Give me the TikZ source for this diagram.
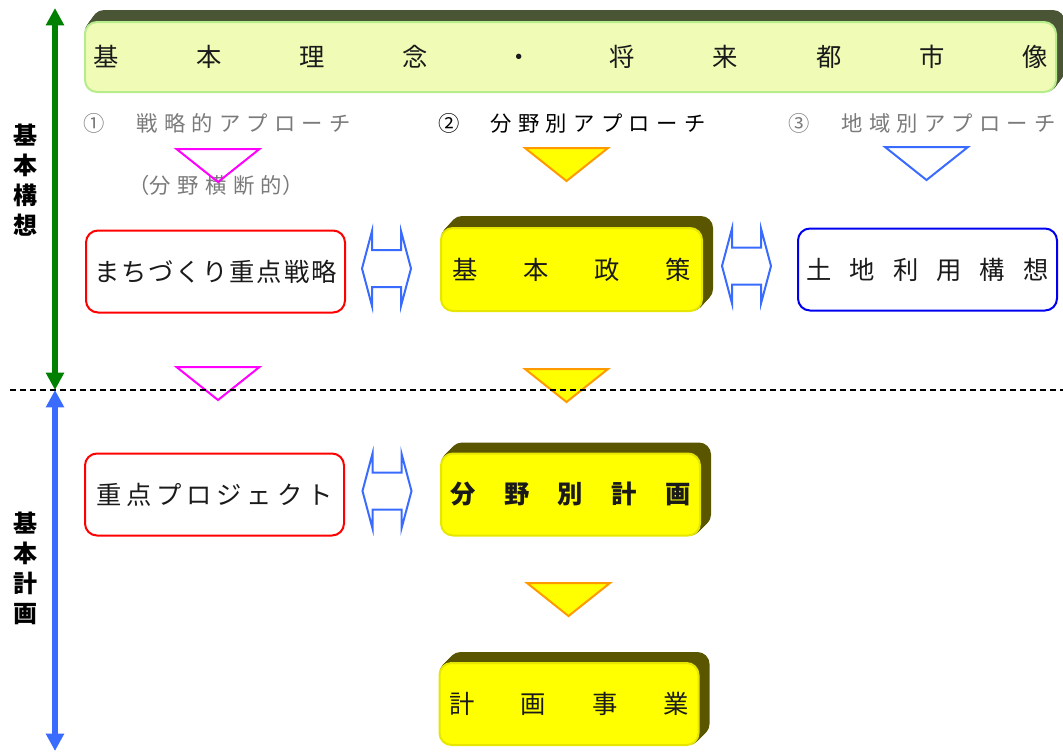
\documentclass[tikz,border=0pt]{standalone}
\usepackage{fontspec}
\setmainfont{Noto Sans CJK JP}
\usetikzlibrary{arrows.meta,backgrounds}
\newdimen\pxu \pxu=0.75pt
\newcommand\spreadtext[2]{\makebox[#1\pxu][s]{\spaceskip=0pt plus 1fil\relax #2}}
\definecolor{visionfill}{HTML}{F0FCB6}
\definecolor{visionline}{HTML}{B6EC8C}
\definecolor{visionshade}{HTML}{4A5536}
\definecolor{polyellow}{HTML}{FFFF00}
\definecolor{polline}{HTML}{E6E600}
\definecolor{polshade}{HTML}{5A5600}
\definecolor{stratred}{HTML}{FF0000}
\definecolor{areablue}{HTML}{0000EE}
\definecolor{linkblue}{HTML}{3A6BFF}
\definecolor{tipmagenta}{HTML}{FF00FF}
\definecolor{tiporange}{HTML}{FF9900}
\definecolor{conceptgreen}{HTML}{008000}
\definecolor{labelgray}{HTML}{7A7A7A}
\definecolor{inkgray}{HTML}{1A1A1A}
\tikzset{
  basebox/.style={rectangle, rounded corners=9pt, line width=1.5pt, inner sep=0pt,
    text=inkgray, font=\fontsize{19}{22}\selectfont,
    minimum width=194.25pt, minimum height=61.5pt},
  stratbox/.style={basebox, draw=stratred},
  areabox/.style={basebox, draw=areablue},
  yelbox/.style={basebox, draw=polline, fill=polyellow},
  visionbox/.style={basebox, draw=visionline, fill=visionfill,
    minimum width=728.25pt, minimum height=52.5pt},
  rowlabel/.style={inner sep=0pt, font=\fontsize{16}{19}\selectfont},
  vlabel/.style={inner sep=0pt, align=center, font=\bfseries\fontsize{18}{22.5}\selectfont},
  linkstyle/.style={draw=linkblue, line width=1.5pt},
  twoway/.pic={\path[pic actions] (-24.5,0) -- (-14.5,-37.5) -- (-14.5,-18.5) -- (14.5,-18.5)
    -- (14.5,-37.5) -- (24.5,0) -- (14.5,37.5) -- (14.5,18.5) -- (-14.5,18.5)
    -- (-14.5,37.5) -- cycle;},
  magtri/.style={draw=tipmagenta, line width=1.5pt},
  yeltri/.style={draw=tiporange, fill=polyellow, line width=1.5pt},
  bluetri/.style={draw=linkblue, line width=1.5pt},
  downtri/.pic={\path[pic actions] (-41.5,0) -- (41.5,0) -- (0,33) -- cycle;},
  divider/.style={dashed, dash pattern=on 4.5pt off 3pt, line width=1.1pt}
}

\begin{document}
\begin{tikzpicture}[x=0.75pt, y=-0.75pt, >={Triangle[width=13pt,length=13pt]}]
	\useasboundingbox (0,0) rectangle (1063,751);

	\node[visionbox] (vision) at (570.5,57) {\spreadtext{955}{基 本 理 念 ・ 将 来 都 市 像}};

	\node[rowlabel, text=labelgray, anchor=west] (approach1) at (83,123)
		{①\hspace{32\pxu}\spreadtext{214}{戦 略 的 ア プ ロ ー チ}};
	\node[rowlabel, anchor=west] (approach2) at (438,123)
		{②\hspace{31\pxu}\spreadtext{215}{分 野 別 ア プ ロ ー チ}};
	\node[rowlabel, text=labelgray, anchor=west] (approach3) at (788,123)
		{③\hspace{32\pxu}\spreadtext{214}{地 域 別 ア プ ロ ー チ}};
	\node[rowlabel, text=labelgray] (crosscut) at (216,185) {\spreadtext{175}{（分 野 横 断 的）}};

	\node[stratbox] (strategy) at (215.5,271.5) {\spreadtext{242}{ま ち づ く り 重 点 戦 略}};
	\node[yelbox, minimum width=195.75pt, minimum height=62.25pt] (policy) at (571.5,269.5)
		{\spreadtext{239}{基 本 政 策}};
	\node[areabox] (landuse) at (927.5,269.5) {\spreadtext{242}{土 地 利 用 構 想}};
	\node[stratbox] (priority) at (214.5,494.5) {\spreadtext{236}{重 点 プ ロ ジ ェ ク ト}};
	\node[yelbox, font=\bfseries\fontsize{19}{22}\selectfont] (sectplan) at (570.5,494.5)
		{\spreadtext{240}{分 野 別 計 画}};
	\node[yelbox] (projects) at (569,704) {\spreadtext{240}{計 画 事 業}};

	\begin{scope}[on background layer]
		\foreach \b/\dx/\dy/\c in {vision/8/11/visionshade, policy/10/11/polshade,
				sectplan/10/10/polshade, projects/10/10/polshade}
			\foreach \k in {1,...,10}
				\fill[\c, rounded corners=9pt]
					([shift={(\k*\dx/10,-\k*\dy/10)}]\b.south west) rectangle
					([shift={(\k*\dx/10,-\k*\dy/10)}]\b.north east);
	\end{scope}

	\pic[linkstyle] (link1) at (386.5,268.5) {twoway};
	\pic[linkstyle] (link2) at (746.5,266) {twoway};
	\pic[linkstyle] (link3) at (387,491) {twoway};

	\pic[magtri] at (218,149) {downtri};
	\pic[magtri] at (218,367) {downtri};
	\pic[yeltri] at (566.5,148) {downtri};
	\pic[yeltri] at (566.5,369) {downtri};
	\pic[yeltri] at (568.5,583) {downtri};
	\pic[bluetri] at (926.5,147) {downtri};

	\draw[divider] (10,390) -- (1063,390);

	\coordinate (concepttop) at (55,8);
	\coordinate (split) at (55,390);
	\coordinate (planbottom) at (55,751);
	\draw[<->, line width=4.5pt, conceptgreen] (concepttop) -- (split);
	\draw[<->, line width=4.5pt, linkblue] (split) -- (planbottom);

	\node[vlabel] (conceptlbl) at (25,180) {基\\本\\構\\想};
	\node[vlabel] (planlbl) at (25,568) {基\\本\\計\\画};
\end{tikzpicture}
\end{document}
